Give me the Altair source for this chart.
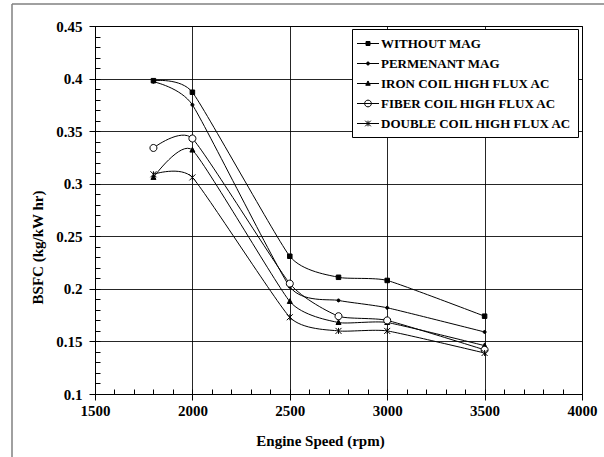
import altair as alt
import pandas as pd

# ---- data ----
rpm = [1800, 2000, 2500, 2750, 3000, 3500]
series_names = [
    "WITHOUT MAG",
    "PERMENANT MAG",
    "IRON COIL HIGH FLUX AC",
    "FIBER COIL HIGH FLUX AC",
    "DOUBLE COIL HIGH FLUX AC",
]
without_mag = [0.398, 0.387, 0.231, 0.211, 0.208, 0.174]
permanent_mag = [0.397, 0.375, 0.202, 0.189, 0.182, 0.159]
iron_coil = [0.306, 0.332, 0.188, 0.168, 0.168, 0.146]
fiber_coil = [0.334, 0.343, 0.205, 0.174, 0.170, 0.142]
double_coil = [0.309, 0.306, 0.173, 0.160, 0.160, 0.139]

x_ticks = [1500, 2000, 2500, 3000, 3500, 4000]
x_minor = [1500 + 100 * i for i in range(26)]
y_ticks = [0.1, 0.15, 0.2, 0.25, 0.3, 0.35, 0.4, 0.45]
y_minor = [round(0.1 + 0.01 * i, 2) for i in range(36)]

rows = []
for name, vals in zip(series_names, [without_mag, permanent_mag, iron_coil, fiber_coil, double_coil]):
    for r, v in zip(rpm, vals):
        rows.append({"series": name, "rpm": r, "bsfc": v})
df = pd.DataFrame(rows)
df_leg = pd.DataFrame({"series": series_names})

W, H = 487, 368
FONT = "Liberation Serif"

xscale = alt.Scale(domain=[1500, 4000], nice=False, zero=False)
yscale = alt.Scale(domain=[0.1, 0.45], nice=False, zero=False)

# marker paths for the plot (size 100 -> 10 px box)
plot_paths = [
    "M-0.45,-0.45H0.45V0.45H-0.45Z",
    "M-0.3,0A0.3,0.3 0 1,0 0.3,0A0.3,0.3 0 1,0 -0.3,0Z",
    "M0,-0.55L0.5,0.4H-0.5Z",
    "M-0.7,0A0.7,0.7 0 1,0 0.7,0A0.7,0.7 0 1,0 -0.7,0Z",
    "M-0.6,-0.6L0.6,0.6M-0.6,0.6L0.6,-0.6M0,-0.6V0.6",
]
# legend symbols: line segment + marker (size 256 -> 16 px box)
LN = "M-1.375,0H1.375"
legend_paths = [
    LN + "M-0.25,-0.25H0.25V0.25H-0.25Z",
    LN + "M-0.19,0A0.19,0.19 0 1,0 0.19,0A0.19,0.19 0 1,0 -0.19,0Z",
    LN + "M0,-0.32L0.28,0.22H-0.28Z",
    LN + "M-0.42,0A0.42,0.42 0 1,0 0.42,0A0.42,0.42 0 1,0 -0.42,0Z",
    LN + "M-0.35,-0.35L0.35,0.35M-0.35,0.35L0.35,-0.35M0,-0.35V0.35",
]
legend_fills = ["black", "black", "black", "white", "black"]
legend_strokes = ["black"] * 5

frame = pd.DataFrame({"a": [0]})
frame_left = alt.Chart(frame).mark_rule(color="#808080", strokeWidth=1.5).encode(
    x=alt.value(-83), y=alt.value(-22), y2=alt.value(431)
)
frame_top = alt.Chart(frame).mark_rule(color="#808080", strokeWidth=1.5).encode(
    x=alt.value(-83), x2=alt.value(509), y=alt.value(-22)
)

lines = alt.Chart(df).mark_line(interpolate="cardinal", tension=0.5, color="black", strokeWidth=1).encode(
    x=alt.X(
        "rpm:Q",
        scale=xscale,
        axis=alt.Axis(
            values=x_ticks, format="d", grid=True, tickSize=6, labelPadding=3,
            labelFlush=False,
            title="Engine Speed (rpm)", titleX=225, titleY=46,
            titleAlign="center", titleBaseline="middle",
        ),
    ),
    y=alt.Y(
        "bsfc:Q",
        scale=yscale,
        axis=alt.Axis(
            values=y_ticks, format=".2~f", grid=True, tickSize=6, labelPadding=7,
            labelFlush=False,
            title="BSFC  (kg/kW hr)", titleX=-58, titleY=221, titleAngle=-90,
            titleAlign="center", titleBaseline="middle",
        ),
    ),
    detail="series:N",
)

points = alt.Chart(df).mark_point(filled=False, size=100, stroke="black", strokeWidth=1, opacity=1).encode(
    x=alt.X(
        "rpm:Q",
        scale=xscale,
        axis=alt.Axis(orient="top", offset=-H, values=x_minor, labels=False, domain=False,
                      grid=False, tickSize=5, title=None),
    ),
    y=alt.Y(
        "bsfc:Q",
        scale=yscale,
        axis=alt.Axis(orient="right", offset=-W, values=y_minor, labels=False, domain=False,
                      grid=False, tickSize=5, title=None),
    ),
    shape=alt.Shape("series:N", scale=alt.Scale(domain=series_names, range=plot_paths), legend=None),
    fill=alt.condition(alt.datum.series == "FIBER COIL HIGH FLUX AC", alt.value("white"), alt.value("black")),
)

leg_def = alt.Legend(
    title=None, orient="none", legendX=257, legendY=3, direction="vertical",
    strokeColor="black", fillColor="white", padding=6, rowPadding=4,
    symbolSize=256, symbolOffset=1.5, labelOffset=4.5, symbolStrokeWidth=1,
    labelFont=FONT, labelFontWeight="bold",
    labelFontSize=13, labelColor="black", labelLimit=0,
)
legend_layer = alt.Chart(df_leg).mark_point(filled=False, clip=True, strokeWidth=1, opacity=1).encode(
    x=alt.value(-1000),
    y=alt.value(-1000),
    shape=alt.Shape("series:N", scale=alt.Scale(domain=series_names, range=legend_paths), legend=leg_def),
    fill=alt.Fill("series:N", scale=alt.Scale(domain=series_names, range=legend_fills), legend=leg_def),
    stroke=alt.Stroke("series:N", scale=alt.Scale(domain=series_names, range=legend_strokes), legend=leg_def),
)

chart = (
    alt.layer(frame_left, frame_top, lines, points, legend_layer)
    .resolve_scale(shape="independent", fill="independent", stroke="independent")
    .resolve_axis(x="independent", y="independent")
    .properties(
        width=W, height=H,
        autosize=alt.AutoSizeParams(type="none"),
        padding={"left": 95, "top": 26, "right": 22, "bottom": 63},
        background="white",
    )
    .configure_view(stroke="black", strokeWidth=1)
    .configure_axis(
        labelFont=FONT, labelFontWeight="bold", labelFontSize=15, labelColor="black",
        titleFont=FONT, titleFontWeight="bold", titleFontSize=15, titleColor="black",
        domainColor="black", tickColor="black", gridColor="black", gridOpacity=0.85,
        domainWidth=1, tickWidth=1, gridWidth=1,
    )
)

chart.save("out.html", embed_options={"renderer": "svg", "actions": False})
